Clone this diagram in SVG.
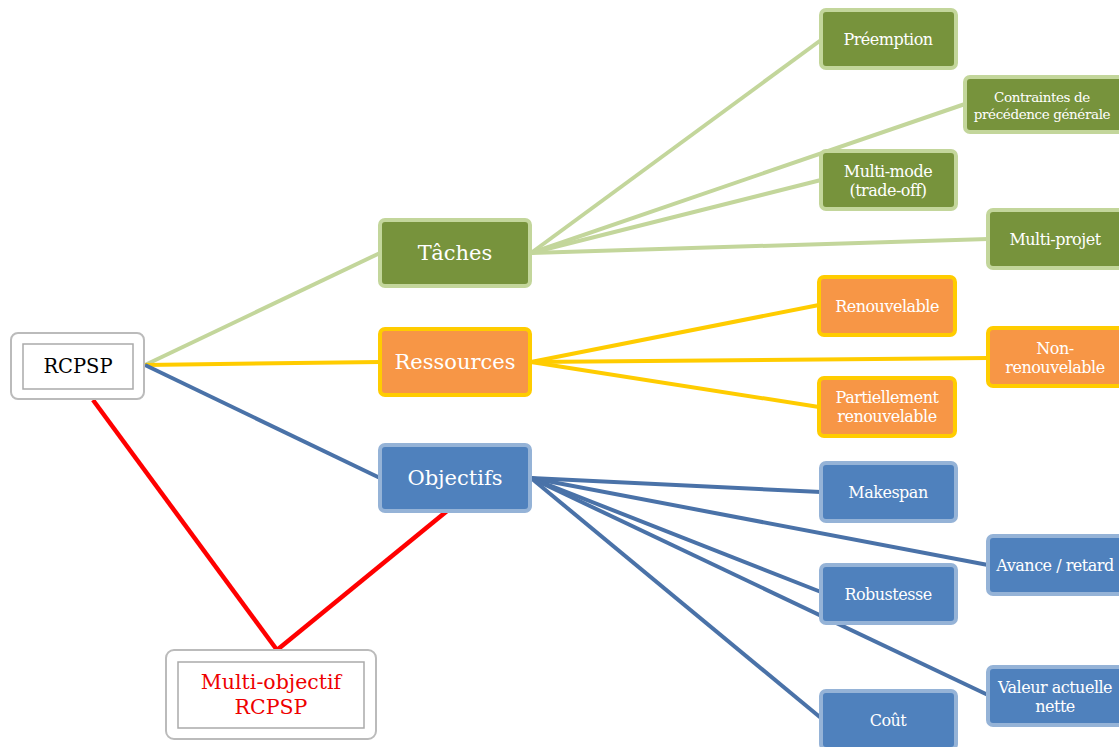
<svg xmlns="http://www.w3.org/2000/svg" width="1119" height="747" viewBox="0 0 1119 747">
<style>
text{font-family:"DejaVu Serif","Liberation Serif",serif;text-anchor:middle;dominant-baseline:central}
.g rect{fill:#77933C;stroke:#C3D69B;stroke-width:4}
.o rect{fill:#F79646;stroke:#FFCC00;stroke-width:4}
.b rect{fill:#4F81BD;stroke:#95B3D7;stroke-width:4}
.g text,.o text,.b text{fill:#fff}
.big{font-size:21px}
.sm{font-size:16px;letter-spacing:-0.5px}
.xs{font-size:13.5px;letter-spacing:-0.4px}
.w .out{fill:#fff;stroke:#bbb;stroke-width:2}
.w .in{fill:#fff;stroke:#aaa;stroke-width:1.5}
.lg{stroke:#C3D69B;stroke-width:4;fill:none}
.lo{stroke:#FFCC00;stroke-width:4;fill:none}
.lb{stroke:#4A72A8;stroke-width:4;fill:none}
.lr{stroke:#F00;stroke-width:4.5;fill:none}
</style>
<rect width="1119" height="747" fill="#fff"/>
<g id="connectors">
<line class="lg" x1="145" y1="365" x2="380" y2="253"/>
<line class="lo" x1="145" y1="365" x2="380" y2="362"/>
<line class="lb" x1="145" y1="365" x2="380" y2="478"/>
<line class="lr" x1="93" y1="400" x2="277" y2="650"/>
<line class="lr" x1="447" y1="511" x2="277" y2="650"/>
<line class="lg" x1="531" y1="253" x2="821" y2="40"/>
<line class="lg" x1="531" y1="253" x2="965" y2="104"/>
<line class="lg" x1="531" y1="253" x2="821" y2="180"/>
<line class="lg" x1="531" y1="253" x2="988" y2="239"/>
<line class="lo" x1="531" y1="362" x2="819" y2="305"/>
<line class="lo" x1="531" y1="362" x2="988" y2="358"/>
<line class="lo" x1="531" y1="362" x2="819" y2="407"/>
<line class="lb" x1="531" y1="478" x2="821" y2="492"/>
<line class="lb" x1="531" y1="478" x2="988" y2="565"/>
<line class="lb" x1="531" y1="478" x2="821" y2="592"/>
<line class="lb" x1="531" y1="478" x2="988" y2="695"/>
<line class="lb" x1="531" y1="478" x2="821" y2="718"/>
</g>
<g id="rcpsp" class="w">
<rect class="out" x="11" y="333" width="133" height="66" rx="7"/>
<rect class="in" x="23" y="344" width="110" height="45"/>
<text x="78" y="366" font-size="19.5">RCPSP</text>
</g>
<g id="multiobj" class="w">
<rect class="out" x="166" y="650" width="210" height="89" rx="8"/>
<rect class="in" x="178" y="662" width="186" height="66"/>
<text x="271" y="682" font-size="20.5" fill="#E00">Multi-objectif</text>
<text x="271" y="707" font-size="20.5" fill="#E00">RCPSP</text>
</g>
<g id="taches" class="g"><rect x="380" y="220" width="150" height="66" rx="5"/><text class="big" x="455" y="253">Tâches</text></g>
<g id="ressources" class="o"><rect x="380" y="329" width="150" height="66" rx="5"/><text class="big" x="455" y="362">Ressources</text></g>
<g id="objectifs" class="b"><rect x="380" y="445" width="150" height="66" rx="5"/><text class="big" x="455" y="478">Objectifs</text></g>
<g id="preemption" class="g"><rect x="821" y="10" width="135" height="58" rx="5"/><text class="sm" x="888" y="39">Préemption</text></g>
<g id="contraintes" class="g"><rect x="965" y="77" width="160" height="55" rx="5"/><text class="xs" x="1042" y="97">Contraintes de</text><text class="xs" x="1042" y="114">précédence générale</text></g>
<g id="multimode" class="g"><rect x="821" y="151" width="135" height="58" rx="5"/><text class="sm" x="888" y="171">Multi-mode</text><text class="sm" x="888" y="190">(trade-off)</text></g>
<g id="multiprojet" class="g"><rect x="988" y="210" width="140" height="58" rx="5"/><text class="sm" x="1055" y="239">Multi-projet</text></g>
<g id="renouvelable" class="o"><rect x="819" y="277" width="136" height="58" rx="5"/><text class="sm" x="887" y="306">Renouvelable</text></g>
<g id="nonrenouvelable" class="o"><rect x="988" y="328" width="140" height="58" rx="5"/><text class="sm" x="1055" y="348">Non-</text><text class="sm" x="1055" y="367">renouvelable</text></g>
<g id="partiellement" class="o"><rect x="819" y="378" width="136" height="58" rx="5"/><text class="sm" x="887" y="397">Partiellement</text><text class="sm" x="887" y="416">renouvelable</text></g>
<g id="makespan" class="b"><rect x="821" y="463" width="135" height="58" rx="5"/><text class="sm" x="888" y="492">Makespan</text></g>
<g id="avance" class="b"><rect x="988" y="536" width="140" height="58" rx="5"/><text class="sm" x="1055" y="565">Avance / retard</text></g>
<g id="robustesse" class="b"><rect x="821" y="565" width="135" height="58" rx="5"/><text class="sm" x="888" y="594">Robustesse</text></g>
<g id="valeur" class="b"><rect x="988" y="667" width="140" height="58" rx="5"/><text class="sm" x="1055" y="687">Valeur actuelle</text><text class="sm" x="1055" y="706">nette</text></g>
<g id="cout" class="b"><rect x="821" y="691" width="135" height="58" rx="5"/><text class="sm" x="888" y="720">Coût</text></g>
</svg>
